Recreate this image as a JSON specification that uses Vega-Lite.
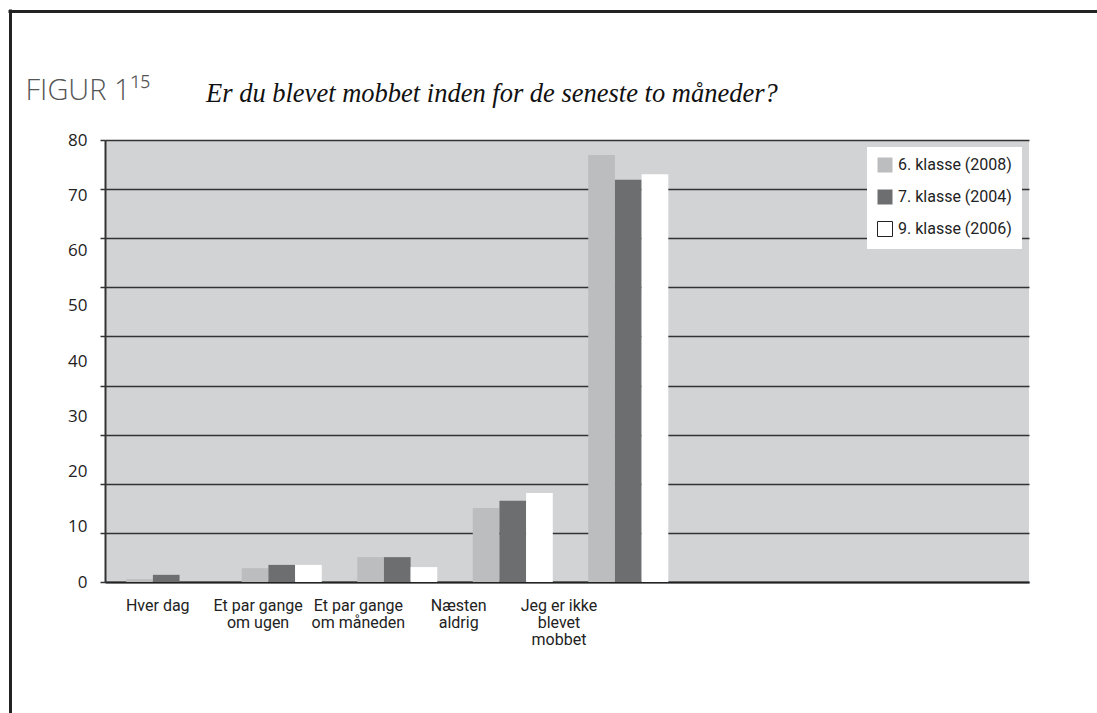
{
  "$schema": "https://vega.github.io/schema/vega-lite/v6.json",
  "width": 924,
  "height": 442,
  "autosize": {"type": "none"},
  "padding": {"left": 105, "top": 140, "right": 68, "bottom": 131},
  "background": "white",
  "title": {
    "text": "Er du blevet mobbet inden for de seneste to måneder?",
    "anchor": "start",
    "frame": "group",
    "dx": 101,
    "offset": -96,
    "font": "Liberation Serif",
    "fontStyle": "italic",
    "fontWeight": "normal",
    "fontSize": 26.5,
    "color": "#111111"
  },
  "config": {
    "view": {"fill": "#d2d3d5", "stroke": null}
  },
  "data": {
    "values": [
      {"kategori": "Hver dag", "klasse": "6. klasse (2008)", "procent": 0.5},
      {"kategori": "Hver dag", "klasse": "7. klasse (2004)", "procent": 1.3},
      {"kategori": "Hver dag", "klasse": "9. klasse (2006)", "procent": 0},
      {"kategori": "Et par gange\nom ugen", "klasse": "6. klasse (2008)", "procent": 2.5},
      {"kategori": "Et par gange\nom ugen", "klasse": "7. klasse (2004)", "procent": 3.1},
      {"kategori": "Et par gange\nom ugen", "klasse": "9. klasse (2006)", "procent": 3.1},
      {"kategori": "Et par gange\nom måneden", "klasse": "6. klasse (2008)", "procent": 4.5},
      {"kategori": "Et par gange\nom måneden", "klasse": "7. klasse (2004)", "procent": 4.5},
      {"kategori": "Et par gange\nom måneden", "klasse": "9. klasse (2006)", "procent": 2.7},
      {"kategori": "Næsten\naldrig", "klasse": "6. klasse (2008)", "procent": 13.4},
      {"kategori": "Næsten\naldrig", "klasse": "7. klasse (2004)", "procent": 14.7},
      {"kategori": "Næsten\naldrig", "klasse": "9. klasse (2006)", "procent": 16.1},
      {"kategori": "Jeg er ikke\nblevet\nmobbet", "klasse": "6. klasse (2008)", "procent": 77.3},
      {"kategori": "Jeg er ikke\nblevet\nmobbet", "klasse": "7. klasse (2004)", "procent": 72.8},
      {"kategori": "Jeg er ikke\nblevet\nmobbet", "klasse": "9. klasse (2006)", "procent": 73.8}
    ]
  },
  "layer": [
    {
      "mark": {"type": "point", "opacity": 0},
      "encoding": {
        "x": {
          "field": "procent",
          "type": "quantitative",
          "scale": {"domain": [0, 90], "range": [-97, 1000], "nice": false},
          "axis": {
            "orient": "top",
            "offset": 129,
            "title": "FIGUR 1¹⁵",
            "titleAnchor": "start",
            "titleAlign": "left",
            "titleBaseline": "alphabetic",
            "titleX": -80,
            "titleY": 88,
            "titleFont": "Open Sans",
            "titleFontWeight": 300,
            "titleFontSize": 29,
            "titleColor": "#555555",
            "labels": false,
            "ticks": false,
            "grid": false,
            "domain": true,
            "domainColor": "#222222",
            "domainWidth": 3
          }
        },
        "y": {
          "field": "procent",
          "type": "quantitative",
          "scale": {"domain": [0, 90], "range": [600, -131], "nice": false},
          "axis": {
            "orient": "left",
            "offset": 95,
            "title": null,
            "labels": false,
            "ticks": false,
            "grid": false,
            "domain": true,
            "domainColor": "#222222",
            "domainWidth": 3
          }
        }
      }
    },
    {
      "mark": {"type": "point", "opacity": 0},
      "encoding": {
        "x": {
          "field": "kategori",
          "type": "nominal",
          "scale": {
            "type": "point",
            "domain": ["Hver dag", "Et par gange\nom ugen", "Et par gange\nom måneden", "Næsten\naldrig", "Jeg er ikke\nblevet\nmobbet", " ", "  ", "   ", "    "],
            "padding": 0.606,
            "align": 0.43
          },
          "axis": {
            "orient": "bottom",
            "title": null,
            "domain": false,
            "ticks": false,
            "grid": false,
            "labelAngle": 0,
            "labelExpr": "split(datum.value, '\\n')",
            "labelFont": "Roboto",
            "labelFontSize": 16,
            "labelLineHeight": 17,
            "labelColor": "#222222",
            "labelPadding": 15,
            "labelBaseline": "top"
          }
        },
        "y": {
          "field": "procent",
          "type": "quantitative",
          "scale": {"domain": [0, 90], "nice": false, "zero": true},
          "axis": {
            "orient": "left",
            "title": null,
            "values": [0, 10, 20, 30, 40, 50, 60, 70, 80, 90],
            "labels": false,
            "grid": true,
            "gridColor": "#333333",
            "gridWidth": 1.5,
            "ticks": true,
            "tickSize": 5,
            "tickColor": "#333333",
            "tickWidth": 1.5,
            "domain": true,
            "domainColor": "#333333",
            "domainWidth": 2
          }
        }
      }
    },
    {
      "mark": {"type": "bar"},
      "encoding": {
        "x": {
          "field": "kategori",
          "type": "nominal",
          "scale": {
            "type": "band",
            "domain": ["Hver dag", "Et par gange\nom ugen", "Et par gange\nom måneden", "Næsten\naldrig", "Jeg er ikke\nblevet\nmobbet", " ", "  ", "   "],
            "paddingInner": 0.307,
            "paddingOuter": 0.153,
            "align": 0.6
          },
          "axis": {
            "orient": "bottom",
            "title": null,
            "labels": false,
            "ticks": false,
            "grid": false,
            "domain": true,
            "domainColor": "#222222",
            "domainWidth": 2
          }
        },
        "xOffset": {
          "field": "klasse",
          "type": "nominal",
          "scale": {"domain": ["6. klasse (2008)", "7. klasse (2004)", "9. klasse (2006)"], "paddingInner": 0, "paddingOuter": 0}
        },
        "y": {
          "field": "procent",
          "type": "quantitative",
          "scale": {"domain": [0, 80], "nice": false},
          "axis": {
            "orient": "left",
            "title": null,
            "values": [0, 10, 20, 30, 40, 50, 60, 70, 80],
            "grid": false,
            "ticks": false,
            "domain": false,
            "labelPadding": 18,
            "labelFont": "Open Sans",
            "labelFontSize": 17,
            "labelColor": "#222222"
          }
        },
        "color": {
          "field": "klasse",
          "type": "nominal",
          "scale": {
            "domain": ["6. klasse (2008)", "7. klasse (2004)", "9. klasse (2006)"],
            "range": ["#bcbdbf", "#6d6e70", "#ffffff"]
          },
          "legend": {
            "title": null,
            "orient": "top-right",
            "offset": 7,
            "fillColor": "#ffffff",
            "padding": 10,
            "symbolType": "square",
            "symbolSize": 225,
            "labelFont": "Roboto",
            "labelFontSize": 16,
            "labelColor": "#222222",
            "labelOffset": 5,
            "rowPadding": 12,
            "encode": {
              "symbols": {
                "update": {
                  "stroke": {"signal": "datum.value === '9. klasse (2006)' ? '#222222' : 'transparent'"},
                  "strokeWidth": {"value": 1}
                }
              }
            }
          }
        }
      }
    }
  ],
  "resolve": {
    "scale": {"x": "independent", "y": "independent"},
    "axis": {"x": "independent", "y": "independent"}
  }
}
